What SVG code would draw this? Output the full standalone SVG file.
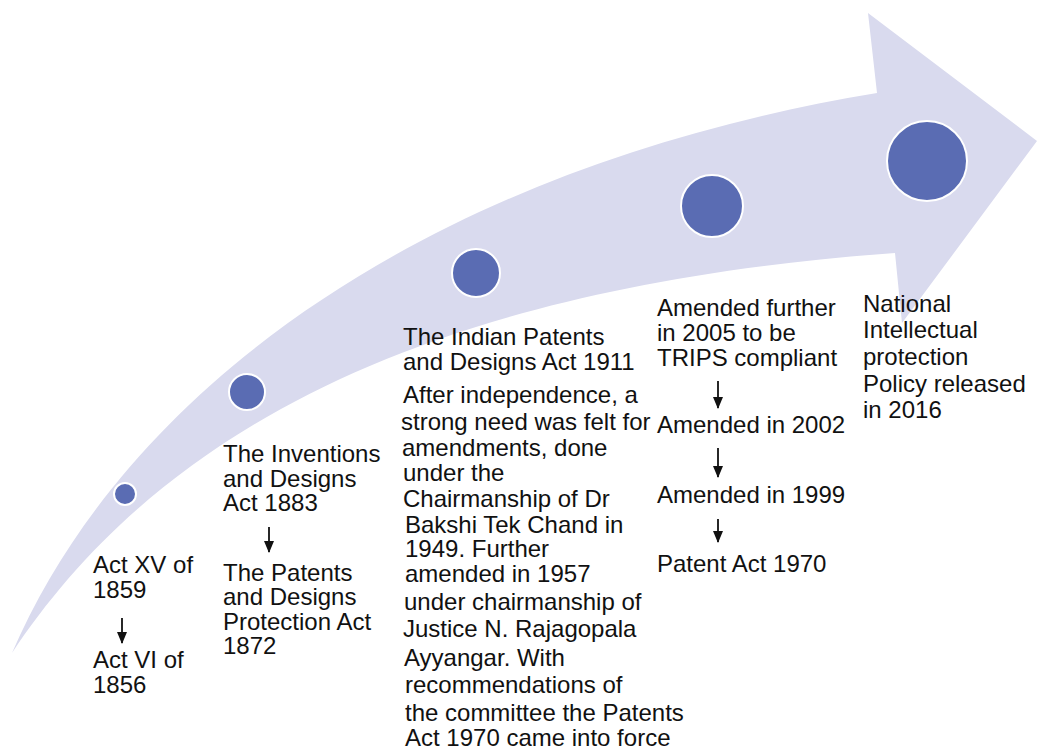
<svg xmlns="http://www.w3.org/2000/svg" width="1042" height="748" viewBox="0 0 1042 748">
  <defs>
    <style>
      .t { font-family: "Liberation Sans", Arial, Helvetica, sans-serif; font-size: 24px; fill: #111111; }
      .dot { fill: #5a6cb3; stroke: #ffffff; stroke-width: 2; }
      .conn { stroke: #111111; stroke-width: 1.8; fill: none; marker-end: url(#ah); }
    </style>
    <marker id="ah" viewBox="0 0 12 10" refX="11" refY="5" markerWidth="12" markerHeight="10" markerUnits="userSpaceOnUse" orient="auto">
      <path d="M0,0 L12,5 L0,10 Z" fill="#111111"/>
    </marker>
  </defs>
  <rect x="0" y="0" width="1042" height="748" fill="#ffffff"/>

  <g id="big-arrow">
    <path d="M12,653 C130,380 440,165 877,93 L868,13 L1037,141 L902,323 L895,253 C380,290 140,460 12,653 Z" fill="#d9daee"/>
  </g>

  <g id="node-1859">
    <circle class="dot" cx="125" cy="494" r="11"/>
    <text class="t" x="93" y="573">Act XV of</text>
    <text class="t" x="93" y="598">1859</text>
    <text class="t" x="93" y="668">Act VI of</text>
    <text class="t" x="93" y="693">1856</text>
  </g>

  <g id="node-1883">
    <circle class="dot" cx="247" cy="392" r="18"/>
    <text class="t" x="223" y="462">The Inventions</text>
    <text class="t" x="223" y="487">and Designs</text>
    <text class="t" x="223" y="511">Act 1883</text>
    <text class="t" x="223" y="581">The Patents</text>
    <text class="t" x="223" y="605">and Designs</text>
    <text class="t" x="223" y="630">Protection Act</text>
    <text class="t" x="223" y="654">1872</text>
  </g>

  <g id="node-1911">
    <circle class="dot" cx="476" cy="273" r="24"/>
    <text class="t" x="403" y="345">The Indian Patents</text>
    <text class="t" x="403" y="370">and Designs Act 1911</text>
    <text class="t" x="403" y="403">After independence, a</text>
    <text class="t" x="401" y="430">strong need was felt for</text>
    <text class="t" x="402" y="456">amendments, done</text>
    <text class="t" x="403" y="481">under the</text>
    <text class="t" x="403" y="507">Chairmanship of Dr</text>
    <text class="t" x="405" y="533">Bakshi Tek Chand in</text>
    <text class="t" x="405" y="557">1949. Further</text>
    <text class="t" x="405" y="582">amended in 1957</text>
    <text class="t" x="404" y="610">under chairmanship of</text>
    <text class="t" x="403" y="637">Justice N. Rajagopala</text>
    <text class="t" x="404" y="666">Ayyangar. With</text>
    <text class="t" x="405" y="693">recommendations of</text>
    <text class="t" x="405" y="721">the committee the Patents</text>
    <text class="t" x="405" y="746">Act 1970 came into force</text>
  </g>

  <g id="node-2005">
    <circle class="dot" cx="712" cy="206" r="31"/>
    <text class="t" x="657" y="316">Amended further</text>
    <text class="t" x="657" y="341">in 2005 to be</text>
    <text class="t" x="657" y="366">TRIPS compliant</text>
    <text class="t" x="657" y="433">Amended in 2002</text>
    <text class="t" x="657" y="503">Amended in 1999</text>
    <text class="t" x="657" y="572">Patent Act 1970</text>
  </g>

  <g id="node-2016">
    <circle class="dot" cx="927" cy="161" r="40"/>
    <text class="t" x="863" y="312">National</text>
    <text class="t" x="863" y="338">Intellectual</text>
    <text class="t" x="863" y="365">protection</text>
    <text class="t" x="863" y="392">Policy released</text>
    <text class="t" x="863" y="418">in 2016</text>
  </g>

  <g id="connectors">
    <line class="conn" x1="122" y1="618" x2="122" y2="643"/>
    <line class="conn" x1="269" y1="527" x2="269" y2="552"/>
    <line class="conn" x1="718" y1="381" x2="718" y2="408"/>
    <line class="conn" x1="718" y1="448" x2="718" y2="477"/>
    <line class="conn" x1="718" y1="519" x2="718" y2="542"/>
  </g>
</svg>
